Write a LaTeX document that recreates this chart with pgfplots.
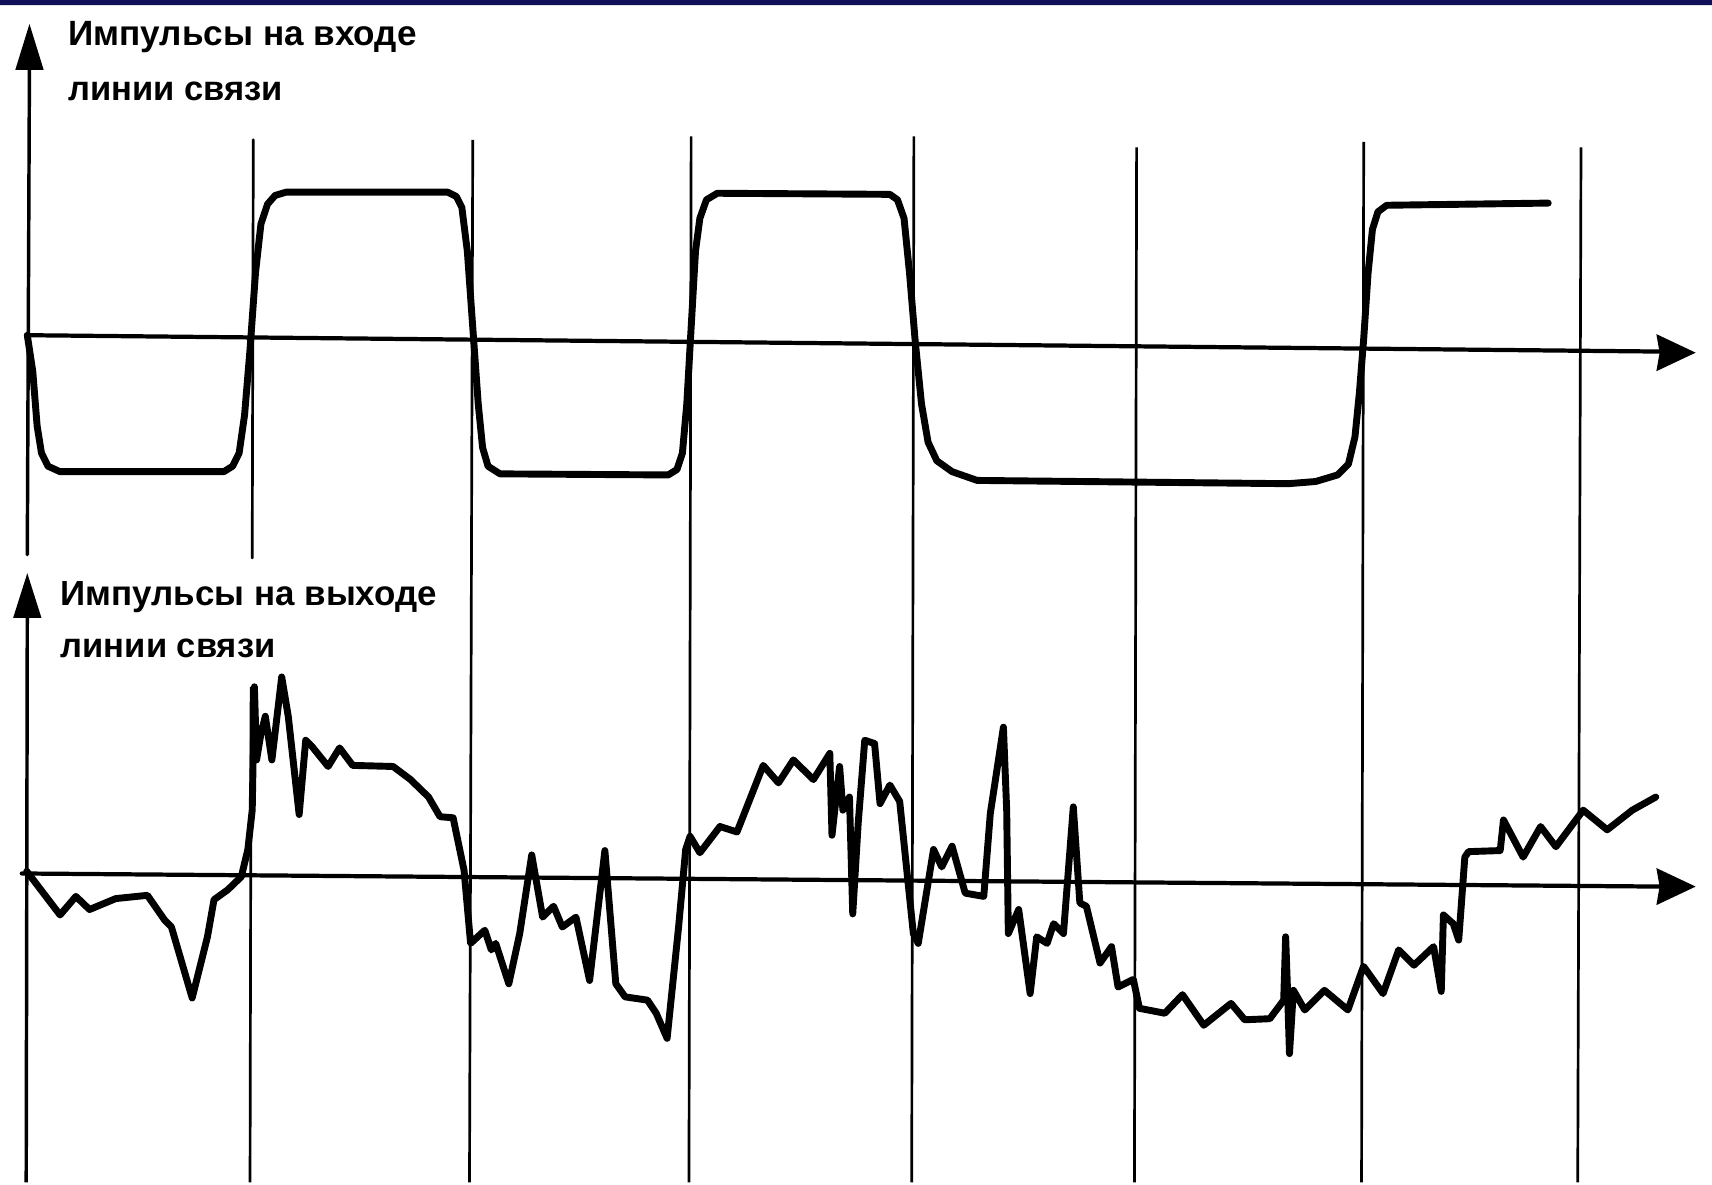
\documentclass[border=0pt]{standalone}
\usepackage{pgfplots}
\pgfplotsset{compat=1.18}
\usepackage{fontspec}
\setmainfont{Liberation Sans}
\definecolor{navy}{RGB}{16,16,88}
\begin{document}
\begin{tikzpicture}
\begin{axis}[
  width=15.68cm, height=10.83cm, scale only axis,
  xmin=0, xmax=1568, ymin=0, ymax=1083, y dir=reverse,
  hide axis, clip=false,
  line join=round, line cap=round
]
% background and top bar
\addplot[fill=white, draw=none] coordinates {(0,0)(1568,0)(1568,1083)(0,1083)(0,0)};
\addplot[fill=navy, draw=none] coordinates {(0,0)(1568,0)(1568,4.6)(0,4.6)(0,0)};
% vertical grid lines
\addplot[black, line width=0.7pt] coordinates {(232,128)(231,511)};
\addplot[black, line width=0.7pt, line cap=butt] coordinates {(230,629)(229,1083)};
\addplot[black, line width=0.7pt, line cap=butt] coordinates {(433,128)(430,1083)};
\addplot[black, line width=0.7pt, line cap=butt] coordinates {(633,125)(631,1083)};
\addplot[black, line width=0.7pt, line cap=butt] coordinates {(837,125)(835,1083)};
\addplot[black, line width=0.7pt, line cap=butt] coordinates {(1041,135)(1039,1083)};
\addplot[black, line width=0.7pt, line cap=butt] coordinates {(1249,130)(1247,1083)};
\addplot[black, line width=0.7pt, line cap=butt] coordinates {(1448,135)(1445,1083)};
% left axes
\addplot[black, line width=0.9pt] coordinates {(27,55)(25,508)};
\addplot[fill=black, draw=none] coordinates {(27,22)(40,64)(14,64)(27,22)};
\addplot[black, line width=0.9pt, line cap=butt] coordinates {(25,560)(24,1083)};
\addplot[fill=black, draw=none] coordinates {(25,525)(38,566)(12,566)(25,525)};
% horizontal axes
\addplot[black, line width=1.1pt] coordinates {(25,307)(1522,322)};
\addplot[fill=black, draw=none] coordinates {(1553,323)(1517,306)(1520,323)(1517,340)(1553,323)};
\addplot[black, line width=1.1pt] coordinates {(20,800)(1522,812)};
\addplot[fill=black, draw=none] coordinates {(1553,812)(1517,795)(1520,812)(1517,829)(1553,812)};
% input pulses
\addplot[black, line width=1.8pt] coordinates {
(25,307)(30,340)(34,390)(38,415)(44,427)(55,432)(205,432)(213,427)(219,415)(224,380)(229,320)(234,250)(239,205)(245,187)(252,179)(262,176)(410,176)(418,180)(423,190)(428,230)(433,300)(438,370)(442,410)(447,427)(458,434)(612,435)(620,430)(625,415)(629,370)(633,300)(637,230)(641,200)(647,183)(657,177)(815,178)(822,183)(828,200)(833,250)(838,310)(844,370)(850,405)(858,422)(872,432)(895,440)(1180,443)(1205,441)(1225,435)(1235,425)(1241,400)(1245,360)(1249,310)(1253,250)(1257,210)(1262,194)(1270,188)(1418,186)
};
% output pulses
\addplot[black, line width=1.8pt] coordinates {
(24.5,798)(55,838)(69.5,821)(82,833)(106,823)(135,820)(151,843)(157,849)(176,914)(190,858)(196,824)(208.5,815)(221,803)(227,778)(231,742)(233,629)(235,696)(239,672)(243,656)(249,696)(258,620)(264,656)(274,746)(280,678)(286,684)(300.5,702)(311,685)(323,701)(360,702)(376,714)(392.5,730)(403,748)(415,749)(425,797)(431,864)(444,852)(450,870)(454,864)(466,901)(476,855)(487,783)(497,840)(507,830)(515,849)(527.5,840)(540,898)(554,779)(564,901)(572.5,913)(593,916)(601,928)(611,951)(621.5,849)(628,778)(632,766)(641,781)(659.4,757)(675,762)(699,701)(713,717)(726.6,696)(745,714)(760,690)(762,765)(769,702)(772,742)(778,730)(781,837)(786,754)(792,678)(801,681)(806,736)(815,719)(824,734)(836.5,855)(841,864)(855,778)(862.5,794)(872,775)(884,818)(901,821)(907,745)(919,666)(922,742)(923.5,855)(933,833)(943.5,910)(949.5,858)(959,864)(965,846)(974,855)(983,739)(989,827)(995,830)(1007.5,882)(1018,867)(1024,904)(1038,897)(1043.6,923.5)(1066.8,928)(1083,911)(1102.5,939)(1127.5,919)(1140,934)(1163,933)(1175.7,916)(1177.5,858)(1179,901)(1181,965)(1184.6,907)(1195,925)(1213,907)(1234.5,925)(1248.8,885)(1266.7,910)(1281,870)(1295,884)(1313,867)(1320,908)(1322,838)(1331,846)(1336,861)(1341.6,785)(1345,780)(1374,779)(1377,751)(1395,785)(1411,757)(1425,775.5)(1450,742)(1472,760)(1495,742)(1516.5,730)
};
% labels
\node[anchor=base west, inner sep=0pt, font=\fontsize{9.15}{11}\selectfont\bfseries] at (axis cs:62,42) {Импульсы на входе};
\node[anchor=base west, inner sep=0pt, font=\fontsize{9.0}{11}\selectfont\bfseries] at (axis cs:62,92) {линии связи};
\node[anchor=base west, inner sep=0pt, font=\fontsize{9.1}{11}\selectfont\bfseries] at (axis cs:55,555) {Импульсы на выходе};
\node[anchor=base west, inner sep=0pt, font=\fontsize{9.0}{11}\selectfont\bfseries] at (axis cs:55,602) {линии связи};
\end{axis}
\end{tikzpicture}
\end{document}
